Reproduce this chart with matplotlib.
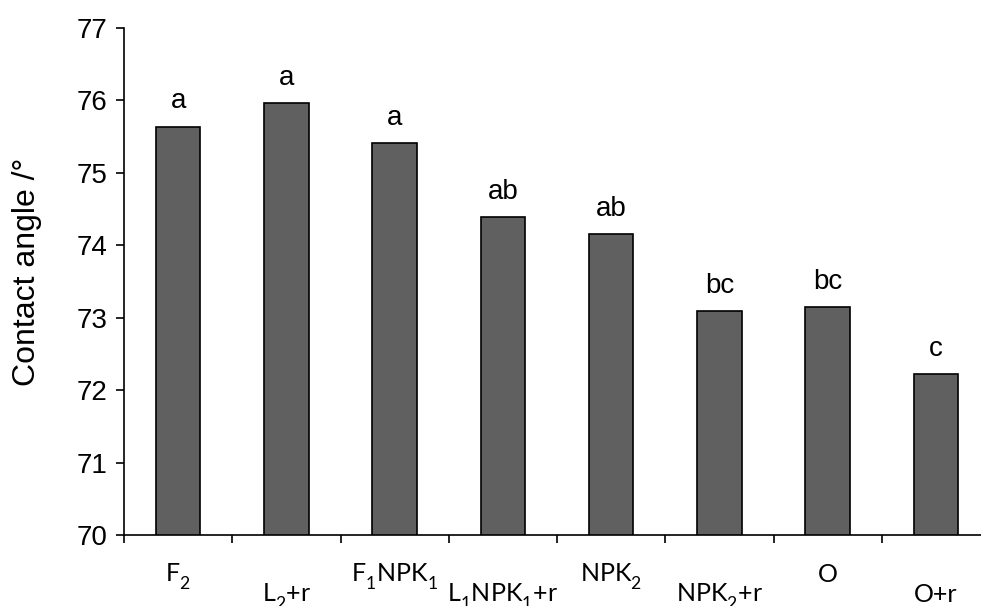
import matplotlib
matplotlib.use('Agg')
import matplotlib.pyplot as plt
import matplotlib.transforms as mtransforms

# treatments, mean contact angle and significance letters
categories = [r'F$_\mathregular{2}$', r'L$_\mathregular{2}$+r', r'F$_\mathregular{1}$NPK$_\mathregular{1}$',
              r'L$_\mathregular{1}$NPK$_\mathregular{1}$+r', r'NPK$_\mathregular{2}$', r'NPK$_\mathregular{2}$+r',
              'O', 'O+r']
values = [75.64, 75.96, 75.41, 74.39, 74.16, 73.09, 73.15, 72.22]
letters = ['a', 'a', 'a', 'ab', 'ab', 'bc', 'bc', 'c']

plt.rcParams['font.family'] = ['Liberation Sans', 'DejaVu Sans']
plt.rcParams['mathtext.fontset'] = 'custom'
plt.rcParams['mathtext.rm'] = 'Lato'

# push subscripts further down, like the Office-style labels
try:
    from matplotlib import _mathtext
    _mathtext.FontConstantsBase.sub1 = 0.6
    _mathtext.FontConstantsBase.sub2 = 0.7
except Exception:
    pass

fig = plt.figure(figsize=(9.81, 6.06), dpi=100)
ax = fig.add_axes([124 / 981, 1 - 535 / 606, 866 / 981, 507 / 606])

x = list(range(len(values)))
ax.bar(x, values, width=0.41, color='#606060', edgecolor='black', linewidth=1.2)

for xi, v, lab in zip(x, values, letters):
    ax.text(xi, v + 0.25, lab, ha='center', va='baseline', fontsize=20)

ax.set_xlim(-0.5, len(values) - 0.5)
ax.set_ylim(70, 77)
ax.set_yticks(range(70, 78))
ax.tick_params(axis='y', direction='out', length=6, width=1.2, labelsize=20, pad=6)

# ticks on category boundaries, labels staggered below
ax.set_xticks([i - 0.5 for i in range(len(values) + 1)])
ax.set_xticklabels([])
ax.tick_params(axis='x', direction='out', length=6, width=1.2)

trans = mtransforms.blended_transform_factory(ax.transData, ax.transAxes)
for i, name in enumerate(categories):
    yy = -0.0927 if i % 2 == 0 else -0.132
    ax.text(i, yy, name, transform=trans, ha='center', va='baseline',
            fontsize=18, family=['Lato', 'DejaVu Sans'])

for s in ['top', 'right']:
    ax.spines[s].set_visible(False)
ax.spines['left'].set_linewidth(1.2)
ax.spines['bottom'].set_linewidth(1.2)

fig.text(27 / 981, 1 - 272 / 606, 'Contact angle /°', rotation=90, ha='center', va='center', fontsize=23)

fig.savefig('out.png', dpi=100)
